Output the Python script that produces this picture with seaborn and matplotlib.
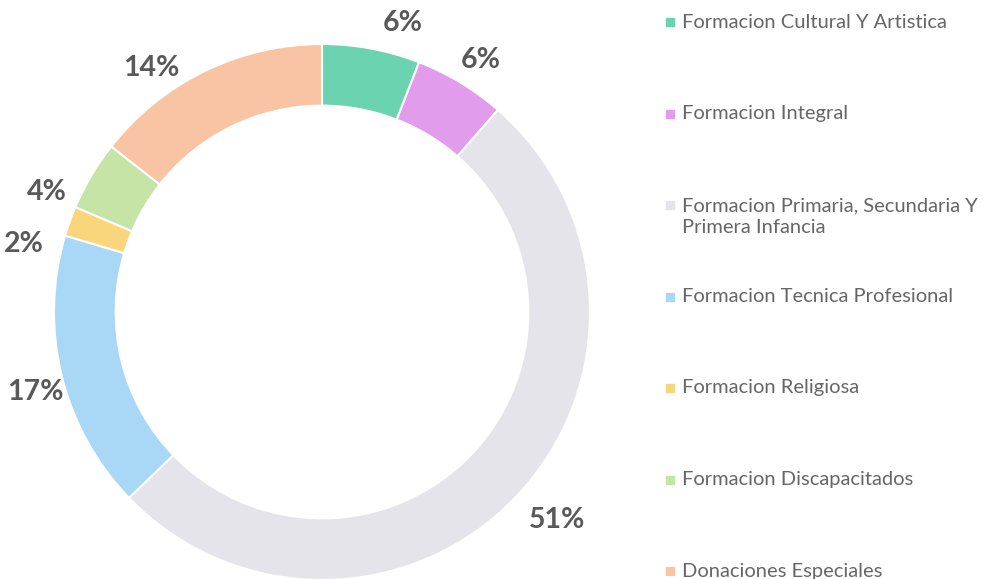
import matplotlib.pyplot as plt
from matplotlib.lines import Line2D
import numpy as np
import seaborn as sns

sns.set_theme(style="white")
plt.rcParams["font.family"] = ["Lato", "DejaVu Sans"]

categories = [
    "Formacion Cultural Y Artistica",
    "Formacion Integral",
    "Formacion Primaria, Secundaria Y\nPrimera Infancia",
    "Formacion Tecnica Profesional",
    "Formacion Religiosa",
    "Formacion Discapacitados",
    "Donaciones Especiales",
]
shares = [5.9, 5.5, 51.4, 16.8, 1.8, 4.2, 14.4]
pct_labels = ["6%", "6%", "51%", "17%", "2%", "4%", "14%"]

colors = sns.color_palette(["#6BD3B0", "#E19CEB", "#E4E4EA", "#A9D7F6",
                            "#F9D57C", "#C6E4A6", "#F8C4A4"])
# small angular nudges (deg) so labels sit where the original put them
label_nudge = [5, 1, -2, -2, -7, -7, -9]
label_rad = [1.12, 1.11, 1.17, 1.11, 1.14, 1.12, 1.11]

W, H = 1001, 579
fig = plt.figure(figsize=(W / 100, H / 100), dpi=100)

cx, cy, r = 322, 312, 268
ax = fig.add_axes([(cx - r) / W, (H - cy - r) / H, 2 * r / W, 2 * r / H])
wedges, _ = ax.pie(shares, colors=colors, startangle=90, counterclock=False,
                   radius=1, wedgeprops=dict(width=0.23, edgecolor="white", linewidth=1.5))
ax.set_xlim(-1, 1)
ax.set_ylim(-1, 1)
ax.set_aspect("equal")
ax.axis("off")

for w, lab, nudge, rr in zip(wedges, pct_labels, label_nudge, label_rad):
    mid = np.deg2rad((w.theta1 + w.theta2) / 2 - nudge)
    ax.text(rr * np.cos(mid), rr * np.sin(mid), lab, ha="center", va="center",
            fontsize=20.5, fontweight="bold", color="#595959")

# legend, one entry per slice, evenly spaced down the right side
line_px = 24
for i, (name, c) in enumerate(zip(categories, colors)):
    top = 22 + 91.5 * i
    extra = name.count("\n") * line_px / 2
    fig.add_artist(Line2D([670 / W], [1 - top / H], marker="s", markersize=6, color=c,
                          linestyle="", transform=fig.transFigure))
    fig.text(682 / W, 1 - (top + extra) / H, name, ha="left", va="center",
             fontsize=14.5, color="#666666", linespacing=1.35)

fig.savefig("out.png", dpi=100)
